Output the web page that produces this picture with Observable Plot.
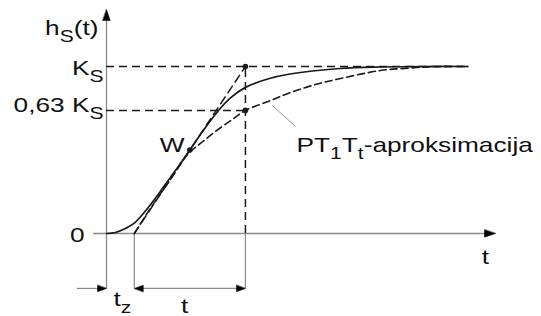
<!DOCTYPE html>
<html>
<head>
<meta charset="utf-8">
<script src="https://cdn.jsdelivr.net/npm/d3@7"></script>
<script src="https://cdn.jsdelivr.net/npm/@observablehq/plot@0.6"></script>
<style>
  html, body { margin: 0; padding: 0; background: #fff; }
</style>
</head>
<body>
<div id="chart"></div>
<script>
// ---- data (time in units of the diagram, response relative to K_S) ----
const tz = 1;             // dead time end (t_z)
const tEnd = 5;           // tz + t
const levelK = 1;         // K_S
const level63 = 0.737;    // "0,63 K_S" level as drawn
const tAxisEnd = 14;
const yAxisTop = 1.341;
const dimY = -0.329;      // dimension-arrow row

// step response h_S(t) (solid)
const solidT = [0, 0.32, 0.68, 1, 1.4, 1.95, 2.5, 3, 3.4, 3.9, 4.45, 5, 5.8, 6.6, 8.4, 9.9, 11.5, 13];
const solidH = [0, 0.006, 0.03, 0.062, 0.135, 0.255, 0.382, 0.5, 0.597, 0.71, 0.81, 0.875, 0.925, 0.955, 0.988, 0.997, 1, 1];

// PT1Tt approximation (dashed)
const approxT = [1, 1.58, 2.3, 2.95, 3.38, 3.92, 4.53, 5, 5.9, 6.62, 7.52, 8.42, 9.86, 10.83, 11.66, 13];
const approxH = [0, 0.15, 0.323, 0.479, 0.539, 0.611, 0.683, 0.737, 0.796, 0.844, 0.892, 0.928, 0.976, 0.99, 0.998, 1];

// inflection tangent through W
const tangentT = [1, 5];
const tangentH = [0, 1];

// marked points: W, K_S, 0.63 K_S
const dotT = [3, 5, 5];
const dotH = [0.5, 1, 0.737];

// labels
const labelText = ["h_{S}(t)", "K_{S}", "0,63 K_{S}", "0", "W", "PT_{1}T_{t}-aproksimacija", "t", "t_{z}", "t"];
const labelX    = [-0.29, -0.11, -0.11, -0.79, 2.81, 6.84, 13.64, 0.25, 2.81];
const labelY    = [1.19, 0.952, 0.73, -0.048, 0.49, 0.49, -0.18, -0.435, -0.475];
const labelAnchor = ["end", "end", "end", "end", "end", "start", "middle", "start", "middle"];

// leader line from label to approximation curve
const leaderT = [5.97, 6.80];
const leaderH = [0.766, 0.641];

// arrowheads: tip position and direction (degrees, 0 = +t, -90 = up)
const arrowT = [0, tAxisEnd, 0, tz, tEnd];
const arrowH = [yAxisTop, 0, dimY, dimY, dimY];
const arrowDir = [-90, 0, 0, 180, 0];
const arrowLen = [11, 11, 9, 9, 9];   // px
const arrowWid = [7.5, 7.5, 6.5, 6.5, 6.5]; // px

// ---- scales ----
const xDomain = [0, tAxisEnd], xRange = [106, 495];
const yDomain = [0, 1], yRange = [233, 66];
const kx = (xRange[1] - xRange[0]) / (xDomain[1] - xDomain[0]);   // px per unit
const ky = (yRange[0] - yRange[1]) / (yDomain[1] - yDomain[0]);   // px per unit

// ---- build tables ----
const zip = (a, b) => a.map((v, i) => ({x: v, y: b[i]}));
const solid = zip(solidT, solidH);
const approx = zip(approxT, approxH);
const tangent = zip(tangentT, tangentH);
const dots = zip(dotT, dotH);
const leader = zip(leaderT, leaderH);
const labels = labelText.map((t, i) => ({text: t, x: labelX[i], y: labelY[i], anchor: labelAnchor[i]}));

// arrowhead triangles (tip + two base corners), expressed in data units
const arrowPts = [];
arrowT.forEach((t, i) => {
  const a = arrowDir[i] * Math.PI / 180;
  const ux = Math.cos(a), uy = Math.sin(a);      // screen direction
  const L = arrowLen[i], W = arrowWid[i] / 2;
  const corners = [[0, 0], [-L * ux - W * uy, -L * uy + W * ux], [-L * ux + W * uy, -L * uy - W * ux]];
  corners.forEach(([dx, dy]) => arrowPts.push({id: i, x: t + dx / kx, y: arrowH[i] - dy / ky}));
});

const axisColor = "#8a8a8a";
const ink = "#1a1a1a";
const dash = "8,5";
const fontSize = 21;

const textMark = (anchor) => Plot.text(labels.filter(d => d.anchor === anchor), {
  x: "x", y: "y", text: "text", textAnchor: anchor, lineAnchor: "bottom",
  fontSize, fill: "#111"
});

const svg = Plot.plot({
  width: 541,
  height: 316,
  marginLeft: 0, marginRight: 0, marginTop: 0, marginBottom: 0,
  x: {domain: xDomain, range: xRange, axis: null},
  y: {domain: yDomain, range: yRange, axis: null},
  style: {background: "#fff", fontFamily: "'Liberation Sans', Arial, sans-serif"},
  marks: [
    // axes
    Plot.ruleY([0], {x1: -0.47, x2: tAxisEnd - 0.3, stroke: axisColor, strokeWidth: 1.3}),
    Plot.ruleX([0], {y1: dimY, y2: yAxisTop - 0.05, stroke: axisColor, strokeWidth: 1.3}),
    // level lines
    Plot.ruleY([levelK], {x1: 0, x2: 13, stroke: ink, strokeWidth: 1.5, strokeDasharray: dash}),
    Plot.ruleY([level63], {x1: 0, x2: tEnd, stroke: ink, strokeWidth: 1.5, strokeDasharray: dash}),
    Plot.ruleX([tEnd], {y1: 0, y2: levelK, stroke: ink, strokeWidth: 1.5, strokeDasharray: dash}),
    // extension lines for dimensions
    Plot.ruleX([tz, tEnd], {y1: dimY, y2: 0, stroke: axisColor, strokeWidth: 1.2}),
    // dimension lines
    Plot.ruleY([dimY], {x1: -1.05, x2: -0.2, stroke: axisColor, strokeWidth: 1.2}),
    Plot.ruleY([dimY], {x1: tz + 0.2, x2: tEnd - 0.2, stroke: axisColor, strokeWidth: 1.2}),
    // tangent
    Plot.line(tangent, {x: "x", y: "y", stroke: ink, strokeWidth: 1.5, strokeDasharray: dash}),
    // approximation
    Plot.line(approx, {x: "x", y: "y", curve: "catmull-rom", stroke: ink, strokeWidth: 1.6, strokeDasharray: "7,4"}),
    // step response
    Plot.line(solid, {x: "x", y: "y", curve: "catmull-rom", stroke: ink, strokeWidth: 1.7}),
    // leader
    Plot.line(leader, {x: "x", y: "y", stroke: "#999", strokeWidth: 1}),
    // points
    Plot.dot(dots, {x: "x", y: "y", r: 2.8, fill: ink, stroke: "none"}),
    // arrowheads
    Plot.line(arrowPts, {x: "x", y: "y", z: "id", fill: "#000", stroke: "#000", strokeWidth: 0.5, curve: "linear-closed"}),
    // labels
    textMark("end"),
    textMark("start"),
    textMark("middle")
  ]
});

// subscripts and horizontal stretch for labels
d3.select(svg).selectAll("text").each(function() {
  const s = this.textContent;
  if (s.includes("_{")) {
    const parts = s.split(/_\{([^}]*)\}/);
    this.textContent = "";
    const sel = d3.select(this);
    let shifted = false;
    parts.forEach((p, i) => {
      if (!p) return;
      const sub = i % 2 === 1;
      const ts = sel.append("tspan").text(p);
      if (sub) {
        ts.attr("font-size", "0.8em");
        if (!shifted) ts.attr("dy", 7);
        shifted = true;
      } else if (shifted) {
        ts.attr("dy", -7);
        shifted = false;
      }
    });
  }
  const tr = this.getAttribute("transform") || "";
  this.setAttribute("transform", tr + " scale(1.25,1)");
});

document.getElementById("chart").appendChild(svg);
</script>
</body>
</html>
